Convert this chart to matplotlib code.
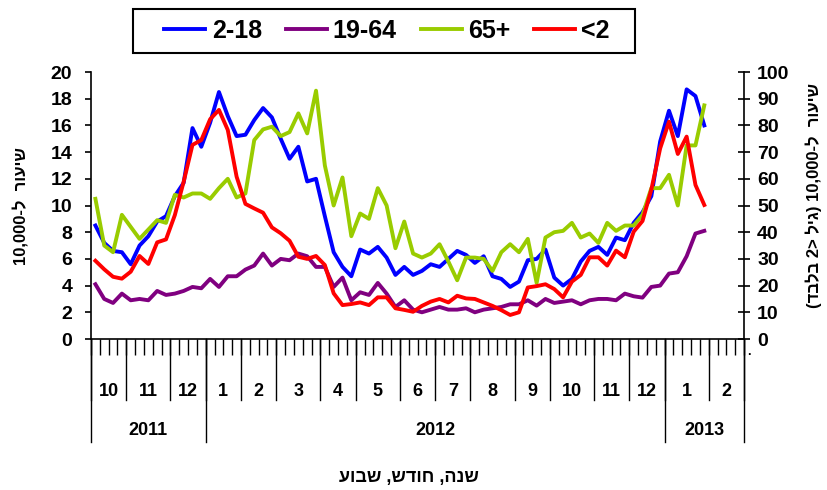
import numpy as np
import matplotlib.pyplot as plt
from matplotlib.patches import Rectangle

plt.rcParams['font.family'] = ['Liberation Sans', 'DejaVu Sans']
plt.rcParams['font.weight'] = 'bold'

# DATA ---------------------------------------------------------------

# weekly rates, Oct 2011 .. Jan 2013
rate_2_18 = [
    8.5, 7.2, 6.6, 6.5, 5.6, 7.0, 7.7, 8.8, 9.2, 10.7,
    11.7, 15.8, 14.4, 16.2, 18.5, 16.7, 15.2, 15.3, 16.4, 17.3,
    16.6, 15.0, 13.5, 14.4, 11.8, 12.0, 9.2, 6.5, 5.4, 4.7,
    6.7, 6.4, 6.9, 6.1, 4.8, 5.4, 4.8, 5.1, 5.6, 5.4,
    6.0, 6.6, 6.3, 5.7, 6.2, 4.7, 4.5, 3.9, 4.3, 5.9,
    6.0, 6.7, 4.6, 4.0, 4.5, 5.8, 6.6, 6.9, 6.3, 7.6,
    7.4, 8.7, 9.5, 10.7, 14.8, 17.1, 15.2, 18.7, 18.2, 16.0
]
rate_19_64 = [
    4.1, 3.0, 2.7, 3.4, 2.9, 3.0, 2.9, 3.6, 3.3, 3.4,
    3.6, 3.9, 3.8, 4.5, 3.9, 4.7, 4.7, 5.2, 5.5, 6.4,
    5.5, 6.0, 5.9, 6.4, 6.2, 5.4, 5.4, 3.9, 4.6, 2.9,
    3.5, 3.3, 4.2, 3.4, 2.4, 2.9, 2.2, 2.0, 2.2, 2.4,
    2.2, 2.2, 2.3, 2.0, 2.2, 2.3, 2.4, 2.6, 2.6, 2.9,
    2.5, 3.0, 2.7, 2.8, 2.9, 2.6, 2.9, 3.0, 3.0, 2.9,
    3.4, 3.2, 3.1, 3.9, 4.0, 4.9, 5.0, 6.2, 7.9, 8.1
]
rate_65 = [
    10.5, 7.0, 6.5, 9.3, 8.4, 7.5, 8.2, 8.9, 8.7, 10.8,
    10.6, 10.9, 10.9, 10.5, 11.3, 12.0, 10.6, 10.9, 14.9, 15.7,
    15.9, 15.2, 15.5, 16.9, 15.4, 18.6, 13.0, 10.0, 12.1, 7.7,
    9.4, 9.0, 11.3, 10.0, 6.8, 8.8, 6.4, 6.1, 6.4, 7.1,
    5.8, 4.4, 6.1, 6.1, 6.0, 5.1, 6.5, 7.1, 6.5, 7.5,
    4.2, 7.6, 8.0, 8.1, 8.7, 7.6, 7.9, 7.2, 8.7, 8.1,
    8.5, 8.5, 9.3, 11.3, 11.3, 12.3, 10.0, 14.5, 14.5, 17.5
]
# under 2, secondary axis
rate_lt2 = [
    29.3, 26.1, 23.3, 22.6, 25.2, 31.1, 28.1, 36.2, 37.3, 46.4,
    58.9, 72.7, 74.5, 82.3, 85.8, 78.3, 60.8, 50.6, 48.9, 47.3,
    41.8, 39.6, 36.8, 30.8, 30.0, 31.1, 27.7, 17.1, 12.7, 13.1,
    13.7, 12.7, 15.6, 15.6, 11.5, 10.9, 10.2, 12.4, 14.0, 15.0,
    13.7, 16.2, 15.2, 15.0, 13.7, 12.4, 10.8, 9.0, 10.0, 19.3,
    19.8, 20.5, 18.7, 15.6, 21.5, 24.0, 30.6, 30.6, 27.5, 33.1,
    30.6, 40.2, 44.2, 56.0, 71.4, 81.4, 69.3, 75.8, 57.7, 50.2
]

month_labels = ['10', '11', '12', '1', '2', '3', '4', '5', '6', '7',
                '8', '9', '10', '11', '12', '1', '2']
weeks_per_month = [4, 5, 4, 4, 4, 5, 4, 5, 4, 4, 5, 4, 5, 4, 4, 5, 4]
year_labels = ['2011', '2012', '2013']
months_per_year = [3, 12, 2]

# hebrew strings in visual (left-to-right) order
ylabel_left = '10,000-ל  רועיש'
ylabel_right = '(דבלב 2> ליג) 10,000-ל  רועיש'
xlabel_text = 'עובש ,שדוח ,הנש'

# PLOTTING -----------------------------------------------------------

fig = plt.figure(figsize=(8.27, 4.90), dpi=100)
ax = fig.add_axes([91/827, 1 - 339/490, 653/827, 267/490])
ax2 = ax.twinx()

n_weeks = sum(weeks_per_month)
x = np.arange(len(rate_2_18)) + 0.5

l1, = ax.plot(x, rate_2_18, color='#0000FF', lw=2.8, label='2-18')
l2, = ax.plot(x, rate_19_64, color='#800080', lw=2.8, label='19-64')
l3, = ax.plot(x, rate_65, color='#99CC00', lw=2.8, label='65+')
l4, = ax2.plot(x, rate_lt2, color='#FF0000', lw=2.8, label='<2')

ax.set_xlim(0, n_weeks)
ax.set_ylim(0, 20)
ax2.set_ylim(0, 100)
ax.set_yticks(range(0, 21, 2))
ax2.set_yticks(range(0, 101, 10))
ax.set_xticks(range(n_weeks + 1))
ax.set_xticklabels([])

for a in (ax, ax2):
    a.spines['top'].set_visible(False)
    for s in a.spines.values():
        s.set_linewidth(1.2)
ax.spines['right'].set_visible(False)
ax2.spines['left'].set_visible(False)
ax2.spines['bottom'].set_visible(False)

ax.tick_params(axis='x', length=11.5, width=1, direction='out')
ax.tick_params(axis='y', length=4.5, width=1.2, labelsize=14, pad=9)
ax2.tick_params(axis='y', direction='inout', length=9, width=1.2,
                labelsize=14, pad=5)

# month / year grouping under the axis
trans = ax.get_xaxis_transform()
month_edges = np.concatenate([[0], np.cumsum(weeks_per_month)])
for e in month_edges:
    ax.plot([e, e], [0, -0.228], transform=trans, clip_on=False,
            color='black', lw=1)
for i, lab in enumerate(month_labels):
    c = (month_edges[i] + month_edges[i + 1]) / 2
    ax.text(c, -0.197, lab, transform=trans, ha='center', va='center',
            fontsize=13)

year_idx = np.concatenate([[0], np.cumsum(months_per_year)])
year_edges = month_edges[year_idx]
for e in year_edges:
    ax.plot([e, e], [0, -0.386], transform=trans, clip_on=False,
            color='black', lw=1)
for i, lab in enumerate(year_labels):
    c = (year_edges[i] + year_edges[i + 1]) / 2
    ax.text(c, -0.343, lab, transform=trans, ha='center', va='center',
            fontsize=13)

ax.text(n_weeks + 0.3, -0.05, '.', transform=trans, ha='left', va='center',
        fontsize=9)

fig.text(409/827, 1 - 477/490, xlabel_text, ha='center', va='center',
         fontsize=13)
fig.text(21/827, 1 - 206/490, ylabel_left, rotation=90, ha='center',
         va='center', fontsize=12)
fig.text(814/827, 1 - 195/490, ylabel_right, rotation=90, ha='center',
         va='center', fontsize=12)

leg = fig.legend([l1, l2, l3, l4], ['2-18', '19-64', '65+', '<2'],
                 loc='center', bbox_to_anchor=(387/827, 1 - 31/490),
                 ncol=4, fontsize=18, frameon=False, handlelength=1.64,
                 handletextpad=0.25, columnspacing=0.95, borderpad=0.3)

# legend box with extra side padding, like the original
fig.canvas.draw()
bb = leg.get_window_extent().transformed(fig.transFigure.inverted())
pad_l, pad_r, pad_v = 24/827, 18/827, 2/490
fig.patches.append(Rectangle((bb.x0 - pad_l, bb.y0 - pad_v),
                             bb.width + pad_l + pad_r, bb.height + 2*pad_v,
                             transform=fig.transFigure, fill=False,
                             edgecolor='black', lw=1.5))

fig.savefig('out.png', dpi=100)
